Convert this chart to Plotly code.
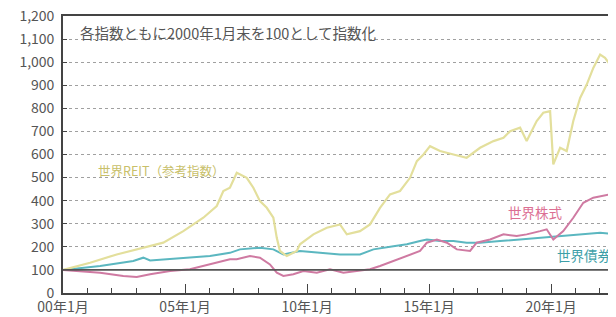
import plotly.graph_objects as go

# ---- data (index, Jan 2000 = 100) ----
reit_x = [2000.00, 2001.11, 2002.20, 2003.29, 2004.11, 2004.93, 2005.75, 2006.30, 2006.57, 2006.84,
          2007.12, 2007.53, 2007.80, 2008.07, 2008.35, 2008.62, 2008.76, 2008.89, 2009.17, 2009.58,
          2009.71, 2010.26, 2010.81, 2011.35, 2011.63, 2012.17, 2012.58, 2012.99, 2013.40, 2013.81,
          2014.22, 2014.50, 2014.77, 2015.04, 2015.45, 2016.00, 2016.54, 2017.09, 2017.64, 2018.05,
          2018.32, 2018.73, 2019.00, 2019.41, 2019.68, 2019.96, 2020.09, 2020.37, 2020.64, 2020.91,
          2021.19, 2021.46, 2021.73, 2022.01, 2022.21, 2022.42, 2022.66]
reit_y = [100, 131, 167, 196, 218, 268, 326, 377, 442, 456,
          521, 499, 456, 398, 369, 326, 239, 182, 160, 182,
          211, 254, 283, 297, 254, 268, 297, 369, 427, 442,
          499, 571, 600, 636, 615, 600, 586, 629, 658, 672,
          701, 716, 658, 745, 781, 788, 557, 629, 615, 745,
          845, 903, 975, 1033, 1019, 989, 946]

stock_x = [2000.00, 2000.70, 2001.52, 2002.47, 2003.02, 2003.57, 2004.39, 2005.20, 2005.75, 2006.30,
           2006.84, 2007.12, 2007.66, 2008.07, 2008.48, 2008.76, 2009.03, 2009.44, 2009.85, 2010.40,
           2010.94, 2011.49, 2012.04, 2012.58, 2012.99, 2013.54, 2014.09, 2014.63, 2014.91, 2015.32,
           2015.73, 2016.14, 2016.68, 2016.95, 2017.50, 2018.05, 2018.59, 2019.00, 2019.55, 2019.82,
           2020.09, 2020.50, 2020.91, 2021.32, 2021.73, 2022.14, 2022.42, 2022.66]
stock_y = [100, 95, 88, 74, 69, 81, 95, 103, 117, 131,
           146, 146, 160, 153, 124, 88, 74, 81, 95, 88,
           103, 88, 95, 103, 117, 139, 160, 182, 218, 232,
           218, 189, 182, 218, 232, 254, 247, 254, 268, 276,
           232, 268, 326, 391, 413, 420, 427, 434]

bond_x = [2000.00, 2001.52, 2002.88, 2003.29, 2003.57, 2004.93, 2006.02, 2006.84, 2007.25, 2008.07,
          2008.62, 2009.03, 2009.71, 2010.53, 2011.35, 2012.17, 2012.72, 2013.54, 2014.09, 2014.63,
          2014.91, 2015.45, 2016.00, 2016.54, 2017.09, 2017.91, 2018.73, 2019.55, 2020.23, 2021.05,
          2022.01, 2022.66]
bond_y = [100, 117, 139, 153, 141, 153, 160, 174, 189, 196,
          189, 167, 182, 174, 167, 167, 189, 203, 211, 225,
          232, 225, 225, 218, 218, 225, 232, 239, 247, 254,
          261, 254]

tick_vals = [2000, 2005, 2010, 2015, 2020]
tick_text = ["00年1月", "05年1月", "10年1月", "15年1月", "20年1月"]
y_ticks = list(range(0, 1300, 100))

FONT = "Noto Sans CJK JP"

fig = go.Figure()
fig.add_trace(go.Scatter(x=bond_x, y=bond_y, mode="lines",
                         line=dict(color="#5bb7c0", width=2), name="世界債券"))
fig.add_trace(go.Scatter(x=reit_x, y=reit_y, mode="lines",
                         line=dict(color="#e3df9c", width=2.2), name="世界REIT"))
fig.add_trace(go.Scatter(x=stock_x, y=stock_y, mode="lines",
                         line=dict(color="#cf7aa2", width=2), name="世界株式"))

# 100 baseline
fig.add_shape(type="line", xref="paper", yref="y", x0=0, x1=1, y0=100, y1=100,
              line=dict(color="#555555", width=1.6), layer="above")

fig.add_annotation(text="各指数ともに2000年1月末を100として指数化", xref="paper", yref="paper",
                   x=0.027, y=0.942, xanchor="left", yanchor="middle", showarrow=False,
                   font=dict(family=FONT, size=14.5, color="#555555"))
fig.add_annotation(text="世界REIT（参考指数）", xref="x", yref="y",
                   x=2001.35, y=530, xanchor="left", yanchor="middle", showarrow=False,
                   font=dict(family=FONT, size=12.5, color="#c8c06a"))
fig.add_annotation(text="世界株式", xref="x", yref="y",
                   x=2018.15, y=350, xanchor="left", yanchor="middle", showarrow=False,
                   font=dict(family=FONT, size=13.5, color="#dc6f93"))
fig.add_annotation(text="世界債券", xref="x", yref="y",
                   x=2020.15, y=165, xanchor="left", yanchor="middle", showarrow=False,
                   font=dict(family=FONT, size=13.5, color="#3d9fa8"))

# page body has an 8px default margin, so margins are offset by 8px
fig.update_layout(
    width=616, height=317,
    margin=dict(l=55, r=8, t=8, b=32),
    paper_bgcolor="white", plot_bgcolor="white",
    showlegend=False,
    font=dict(family=FONT, color="#555555"),
)
fig.update_xaxes(
    range=[2000, 2022.66], automargin=False,
    tickmode="array", tickvals=tick_vals, ticktext=tick_text,
    ticks="inside", ticklen=9, tickcolor="#444444", tickwidth=1,
    minor=dict(dtick=1, tick0=2000, ticks="inside", ticklen=5, tickcolor="#444444"),
    showgrid=False, zeroline=False, ticklabeloverflow="allow",
    showline=True, linecolor="#444444", linewidth=1.6, mirror=True,
    tickfont=dict(family=FONT, size=14, color="#555555"),
)
fig.update_yaxes(
    range=[0, 1200], automargin=False,
    tickmode="array", tickvals=y_ticks, tickformat=",",
    ticks="inside", ticklen=4, tickcolor="#444444",
    ticklabelstandoff=4, ticklabeloverflow="allow",
    showgrid=True, gridcolor="#a0a0a0", griddash="dot", gridwidth=1,
    zeroline=False,
    showline=True, linecolor="#444444", linewidth=1.6,
    tickfont=dict(family=FONT, size=14, color="#555555"),
)

fig.write_html("out.html")
